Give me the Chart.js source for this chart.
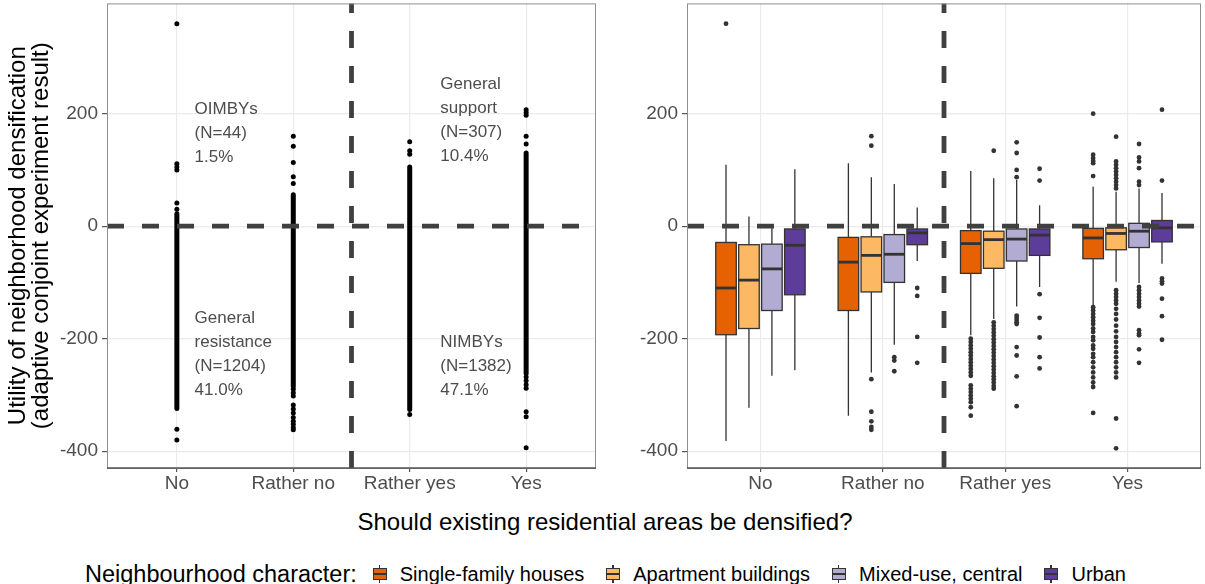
<!DOCTYPE html>
<html>
<head>
<meta charset="utf-8">
<title>Utility of neighbourhood densification</title>
<script src="https://cdn.jsdelivr.net/npm/chart.js@4"></script>
<style>
  body {
    margin: 0;
    width: 1205px;
    height: 584px;
    background: #ffffff;
    position: relative;
    overflow: hidden;
    font-family: "Liberation Sans", Arial, sans-serif;
  }
  #leftChart { position: absolute; left: 0; top: -12px; }
  #rightChart { position: absolute; left: 600px; top: -12px; }
  #xtitle {
    position: absolute; left: 0; width: 1210px; top: 507px;
    text-align: center; font-size: 24px; line-height: 30px; color: #000;
  }
  #legend {
    position: absolute; left: 85px; top: 560px; height: 28px;
    display: flex; align-items: center; color: #000; white-space: nowrap;
  }
  #legend .title { font-size: 23.5px; margin-right: 16px; }
  #legend .label { font-size: 20px; margin-left: 13px; margin-right: 22px; }
  .key { position: relative; width: 14px; height: 18px; display: inline-block; }
  .key .whisker { position: absolute; left: 6px; top: 0; width: 1.3px; height: 18px; background: #333; }
  .key .box { position: absolute; left: 0; top: 3px; width: 12px; height: 10px; border: 1px solid #333; }
  .key .median { position: absolute; left: 0; top: 8px; width: 14px; height: 2px; background: #333; }
</style>
</head>
<body>
<canvas id="leftChart" width="600" height="512"></canvas>
<canvas id="rightChart" width="605" height="512"></canvas>
<div id="xtitle">Should existing residential areas be densified?</div>
<div id="legend"></div>
<script>
const categories = ['No', 'Rather no', 'Rather yes', 'Yes'];

// left panel: respondents standing apart from the solid runs
const stripNo = [360, 111, 105, 100, 41, 30, -361, -380];
const stripRatherNo = [160, 142, 113, 88, 76, -290, -296, -302, -318, -325, -332, -340, -347, -352, -358, -362];
const stripRatherYes = [150, 134, 128, -335];
const stripYes = [207, 202, 197, 160, 146, -268, -275, -282, -288, -330, -339, -394];

// left panel: ranges where respondents are packed into a solid run [low, high]
const runNo = [-324, 22];
const runRatherNo = [-285, 56];
const runRatherYes = [-326, 105];
const runYes = [-262, 130];

// quadrant annotations
const noteOimby = ['OIMBYs', '(N=44)', '1.5%'];
const noteSupport = ['General', 'support', '(N=307)', '10.4%'];
const noteResistance = ['General', 'resistance', '(N=1204)', '41.0%'];
const noteNimby = ['NIMBYs', '(N=1382)', '47.1%'];

// right panel
const groups = ['Single-family houses', 'Apartment buildings', 'Mixed-use, central', 'Urban'];
const groupColors = ['#E66101', '#FDB863', '#B2ABD2', '#5E3C99'];

// per category: [lower whisker, Q1, median, Q3, upper whisker]
const statsSingle = [[-382, -193, -110, -29, 109], [-337, -150, -64, -20, 112], [-194, -84, -31, -8, 98], [-141, -58, -21, -4, 70]];
const statsApartment = [[-323, -182, -96, -33, 17], [-260, -117, -52, -19, 87], [-165, -75, -24, -9, 85], [-99, -42, -13, -3, 61]];
const statsMixed = [[-266, -150, -76, -32, -3], [-211, -100, -50, -15, 75], [-143, -62, -23, -5, 82], [-101, -38, -9, 5, 67]];
const statsUrban = [[-256, -122, -34, -5, 101], [-62, -33, -12, -5, 33], [-108, -52, -16, -5, 37], [-67, -28, -3, 10, 59]];

// per category: outliers
const outSingle = [
  [360],
  [],
  [-200, -206, -212, -218, -224, -230, -236, -242, -248, -254, -260, -266, -283, -289, -295, -301, -307, -313, -322, -337],
  [200, 127, 121, 116, 112, 89, -144, -150, -156, -162, -168, -174, -182, -188, -197, -203, -212, -218, -227, -233, -242, -251, -260, -269, -278, -286, -332]
];
const outApartment = [
  [],
  [160, 143, -272, -330, -347, -357, -362],
  [134, -171, -177, -183, -189, -195, -201, -207, -213, -219, -225, -231, -237, -243, -249, -255, -261, -267, -272, -278, -284, -289],
  [159, 115, 109, 103, 97, 91, 85, 79, 73, 67, -114, -120, -126, -132, -138, -147, -156, -166, -177, -187, -197, -206, -215, -224, -233, -242, -251, -260, -269, -342, -395]
];
const outMixed = [
  [],
  [-233, -239, -258],
  [149, 130, 100, 87, -159, -163, -167, -171, -174, -215, -230, -267, -320],
  [146, 122, 115, 103, 79, 73, -108, -114, -120, -126, -132, -138, -143, -185, -191, -194, -219, -243]
];
const outUrban = [
  [],
  [-110, -124, -197, -243],
  [102, 81, -121, -163, -198, -233, -253],
  [207, 81, -93, -98, -102, -129, -160, -202]
];

const yTicks = [-400, -200, 0, 200];

const boxStats = [statsSingle, statsApartment, statsMixed, statsUrban];
const boxOutliers = [outSingle, outApartment, outMixed, outUrban];
const dodge = [-0.28125, -0.09375, 0.09375, 0.28125];
const halfBox = 0.084;

const tickFont = { family: '"Liberation Sans", Arial, sans-serif', size: 19 };
const tickGrey = '#4D4D4D';

function baseScales(yWidth, withTitle) {
  return {
    x: {
      type: 'linear', min: -0.6, max: 3.6,
      afterBuildTicks: s => { s.ticks = categories.map((_, i) => ({ value: i })); },
      afterFit: s => { s.height = 32; },
      ticks: { callback: v => categories[Math.round(v)], font: tickFont, color: tickGrey, padding: 0, autoSkip: false, maxRotation: 0 },
      grid: { color: '#EBEBEB', lineWidth: 1.2, tickColor: '#555', tickLength: 4 },
      border: { display: false }
    },
    y: {
      type: 'linear', min: -430, max: 396,
      afterBuildTicks: s => { s.ticks = yTicks.map(v => ({ value: v })); },
      afterFit: s => { s.width = yWidth; },
      ticks: { font: tickFont, color: tickGrey, padding: 4 },
      grid: { color: '#EBEBEB', lineWidth: 1.2, tickColor: '#555', tickLength: 5 },
      border: { display: false },
      title: {
        display: withTitle,
        text: ['Utility of neighborhood densification', '(adaptive conjoint experiment result)'],
        font: { family: '"Liberation Sans", Arial, sans-serif', size: 24, lineHeight: 0.96 },
        color: '#000',
        padding: { top: 7, bottom: 0 }
      }
    }
  };
}

// dashed reference lines and the panel frame, drawn on top of the data
const refLines = {
  id: 'refLines',
  afterDatasetsDraw(chart) {
    const { ctx, chartArea: a, scales: { x, y } } = chart;
    ctx.save();
    ctx.strokeStyle = '#404040';
    ctx.lineWidth = 4.8;
    ctx.setLineDash([17, 18]);
    const y0 = y.getPixelForValue(0);
    ctx.beginPath(); ctx.moveTo(a.left, y0); ctx.lineTo(a.right, y0); ctx.stroke();
    const xm = x.getPixelForValue(1.5);
    ctx.beginPath(); ctx.moveTo(xm, a.bottom); ctx.lineTo(xm, a.top); ctx.stroke();
    ctx.setLineDash([]);
    ctx.lineWidth = 1;
    ctx.strokeStyle = '#8f8f8f';
    ctx.strokeRect(a.left + 0.5, a.top + 0.5, a.right - a.left - 1, a.bottom - a.top);
    ctx.strokeStyle = '#555';
    ctx.lineWidth = 1.4;
    ctx.beginPath(); ctx.moveTo(a.left, a.bottom); ctx.lineTo(a.right, a.bottom); ctx.stroke();
    ctx.restore();
  }
};

const notes = {
  id: 'notes',
  afterDatasetsDraw(chart) {
    const { ctx, scales: { x, y } } = chart;
    ctx.save();
    ctx.font = '17px "Liberation Sans", Arial, sans-serif';
    ctx.fillStyle = '#4D4D4D';
    ctx.textAlign = 'left';
    ctx.textBaseline = 'middle';
    const place = (lines, xv, yv) => {
      const px = x.getPixelForValue(xv), py = y.getPixelForValue(yv);
      lines.forEach((t, i) => ctx.fillText(t, px, py + i * 24));
    };
    place(noteOimby, 0.152, 208);
    place(noteSupport, 2.263, 252);
    place(noteResistance, 0.152, -163);
    place(noteNimby, 2.263, -206);
    ctx.restore();
  }
};

const boxes = {
  id: 'boxes',
  beforeDatasetsDraw(chart) {
    const { ctx, scales: { x, y } } = chart;
    ctx.save();
    boxStats.forEach((stats, g) => {
      stats.forEach((s, c) => {
        const xc = x.getPixelForValue(c + dodge[g]);
        const x0 = x.getPixelForValue(c + dodge[g] - halfBox);
        const x1 = x.getPixelForValue(c + dodge[g] + halfBox);
        const [lo, q1, med, q3, hi] = s.map(v => y.getPixelForValue(v));
        ctx.strokeStyle = '#333';
        ctx.lineWidth = 1.3;
        ctx.beginPath();
        ctx.moveTo(xc, lo); ctx.lineTo(xc, q1);
        ctx.moveTo(xc, q3); ctx.lineTo(xc, hi);
        ctx.stroke();
        ctx.fillStyle = groupColors[g];
        ctx.fillRect(x0, q3, x1 - x0, q1 - q3);
        ctx.strokeRect(x0, q3, x1 - x0, q1 - q3);
        ctx.lineWidth = 2.8;
        ctx.beginPath(); ctx.moveTo(x0, med); ctx.lineTo(x1, med); ctx.stroke();
      });
    });
    ctx.restore();
  }
};

// left panel
const runs = [runNo, runRatherNo, runRatherYes, runYes];
const strips = [stripNo, stripRatherNo, stripRatherYes, stripYes];
const leftSets = [];
runs.forEach((r, i) => {
  leftSets.push({
    type: 'line',
    data: [{ x: i, y: r[0] }, { x: i, y: r[1] }],
    borderColor: '#000', borderWidth: 5, borderCapStyle: 'round',
    pointRadius: 0, showLine: true
  });
});
strips.forEach((vals, i) => {
  leftSets.push({
    data: vals.map(v => ({ x: i, y: v })),
    backgroundColor: '#000', borderColor: '#000', pointRadius: 2.5, borderWidth: 0
  });
});

new Chart(document.getElementById('leftChart'), {
  type: 'scatter',
  data: { datasets: leftSets },
  options: {
    responsive: false, animation: false,
    layout: { padding: { top: 3, right: 2, bottom: 0, left: 0 } },
    plugins: { legend: { display: false }, tooltip: { enabled: false } },
    scales: baseScales(107, true)
  },
  plugins: [refLines, notes]
});

// right panel
const rightSets = boxOutliers.map((outs, g) => ({
  data: outs.flatMap((vals, c) => vals.map(v => ({ x: c + dodge[g], y: v }))),
  backgroundColor: '#333', borderColor: '#333', pointRadius: 2.4, borderWidth: 0
}));

new Chart(document.getElementById('rightChart'), {
  type: 'scatter',
  data: { datasets: rightSets },
  options: {
    responsive: false, animation: false,
    layout: { padding: { top: 3, right: 2, bottom: 0, left: 0 } },
    plugins: { legend: { display: false }, tooltip: { enabled: false } },
    scales: baseScales(87, false)
  },
  plugins: [boxes, refLines]
});

// legend
const legend = document.getElementById('legend');
legend.innerHTML = '<span class="title">Neighbourhood character:</span>' +
  groups.map((name, g) =>
    '<span class="key"><span class="whisker"></span><span class="box" style="background:' + groupColors[g] + '"></span><span class="median"></span></span>' +
    '<span class="label">' + name + '</span>'
  ).join('');
</script>
</body>
</html>
